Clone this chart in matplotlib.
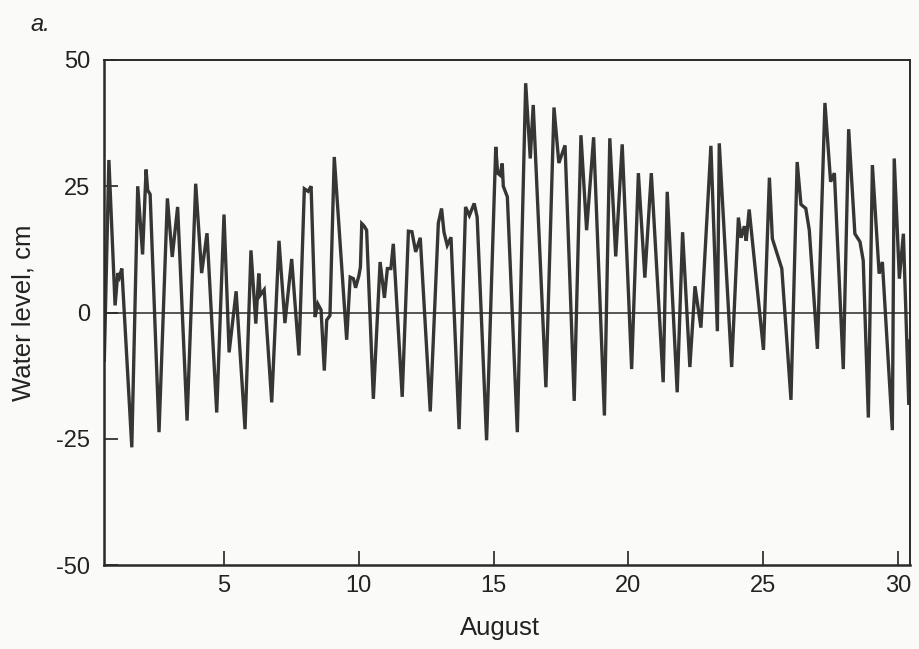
import matplotlib
matplotlib.use("Agg")
import matplotlib.pyplot as plt

# hourly-ish water level record (day of August, cm)
days = [0.56, 0.73, 0.96, 1.06, 1.12, 1.21, 1.58, 1.80, 1.98, 2.11, 2.17, 2.26,
        2.59, 2.90, 3.08, 3.28, 3.63, 3.95, 4.17, 4.37, 4.73, 5.00, 5.19, 5.45,
        5.78, 6.00, 6.18, 6.29, 6.34, 6.49, 6.77, 7.04, 7.26, 7.51, 7.78, 7.98,
        8.12, 8.23, 8.38, 8.48, 8.60, 8.72, 8.81, 8.93, 9.09, 9.55, 9.68, 9.80,
        9.88, 10.00, 10.06, 10.11, 10.20, 10.29, 10.54, 10.79, 10.95, 11.06, 11.19, 11.28,
        11.61, 11.84, 11.97, 12.11, 12.28, 12.65, 12.95, 13.07, 13.16, 13.28, 13.42, 13.72,
        13.96, 14.10, 14.28, 14.39, 14.74, 15.08, 15.15, 15.24, 15.32, 15.36, 15.51, 15.88,
        16.19, 16.36, 16.47, 16.94, 17.24, 17.42, 17.65, 17.99, 18.24, 18.45, 18.71, 19.11,
        19.31, 19.53, 19.77, 20.12, 20.37, 20.61, 20.85, 21.29, 21.44, 21.81, 22.01, 22.28,
        22.47, 22.69, 23.06, 23.30, 23.37, 23.83, 24.08, 24.18, 24.30, 24.37, 24.48, 25.01,
        25.23, 25.34, 25.69, 26.03, 26.26, 26.40, 26.58, 26.71, 27.01, 27.29, 27.50, 27.64,
        27.97, 28.17, 28.40, 28.59, 28.71, 28.90, 29.05, 29.30, 29.42, 29.79, 29.86, 30.05,
        30.20, 30.40, 30.45]
level = [-9.5, 30.2, 1.4, 7.8, 7.0, 8.7, -26.7, 25.0, 11.5, 28.3, 24.2, 23.4,
         -23.7, 22.6, 11.0, 20.9, -21.4, 25.5, 7.8, 15.7, -19.8, 19.4, -7.9, 4.2,
         -23.1, 12.3, -2.2, 7.7, 3.4, 4.5, -17.8, 14.2, -2.1, 10.6, -8.5, 24.5,
         24.0, 25.0, -0.9, 1.7, 0.5, -11.5, -1.5, -0.6, 30.8, -5.4, 7.0, 6.7,
         4.9, 7.2, 9.0, 17.6, 17.1, 16.3, -17.1, 10.0, 2.9, 8.7, 8.7, 13.6,
         -16.7, 16.1, 16.0, 12.0, 14.8, -19.6, 17.7, 20.6, 15.9, 13.3, 14.9, -23.1,
         20.9, 19.2, 21.6, 18.9, -25.3, 32.8, 27.6, 27.2, 29.5, 25.0, 22.9, -23.7,
         45.4, 30.5, 41.1, -14.8, 40.6, 29.6, 33.1, -17.5, 35.1, 16.3, 34.7, -20.4,
         34.5, 11.1, 33.3, -11.2, 27.6, 6.9, 27.6, -13.8, 23.9, -15.8, 15.9, -10.8,
         5.2, -3.0, 33.0, -3.7, 33.5, -10.8, 18.8, 14.8, 17.1, 14.2, 20.4, -7.4,
         26.7, 14.6, 8.7, -17.3, 29.8, 21.4, 20.6, 16.3, -7.2, 41.5, 25.9, 27.6,
         -11.2, 36.3, 15.6, 14.0, 10.3, -20.8, 29.2, 7.7, 10.0, -23.3, 30.5, 6.7,
         15.6, -18.3, -5.6]

x_ticks = [5, 10, 15, 20, 25, 30]
y_ticks = [-50, -25, 0, 25, 50]

plt.rcParams['font.family'] = ['Liberation Sans', 'DejaVu Sans']
plt.rcParams['axes.unicode_minus'] = False

fig = plt.figure(figsize=(9.2, 6.49), dpi=100, facecolor='#fafaf8')
ax = fig.add_axes([104 / 920, 1 - 565 / 649, 806 / 920, 505 / 649])
ax.set_facecolor('#fafaf8')

ax.plot(days, level, color='#363634', lw=2.4, solid_joinstyle='miter')
ax.axhline(0, color='#2a2a2a', lw=1.1)

ax.set_xlim(0.549, 30.445)
ax.set_ylim(-50, 50)
ax.set_xticks(x_ticks)
ax.set_yticks(y_ticks)
ax.tick_params(direction='in', length=10, width=1.2, colors='#222222', labelsize=17)
ax.tick_params(axis='y', pad=10)
ax.tick_params(axis='x', pad=7)

for side in ['left', 'bottom']:
    ax.spines[side].set_linewidth(1.8)
for side in ['top', 'right']:
    ax.spines[side].set_linewidth(1.4)
for s in ax.spines.values():
    s.set_color('#2a2a2a')

ax.set_xlabel('August', fontsize=18.5, color='#222222')
ax.xaxis.set_label_coords(0.491, -0.1)
ax.set_ylabel('Water level, cm', fontsize=18.5, color='#222222')
ax.yaxis.set_label_coords(-0.085, 0.5)

fig.text(0.033, 0.963, 'a.', fontsize=17, style='italic', va='center', color='#222222')

fig.savefig('out.png', dpi=100, facecolor=fig.get_facecolor())
